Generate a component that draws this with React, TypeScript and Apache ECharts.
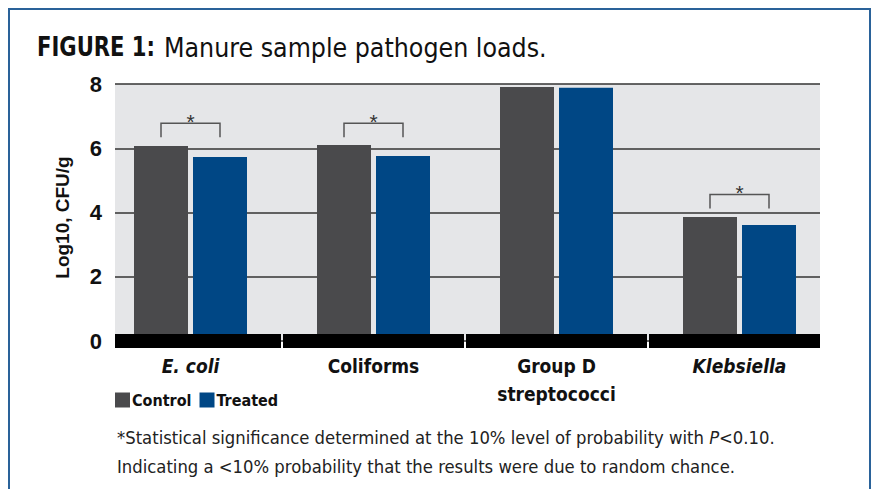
import React, { useEffect, useRef } from "react";
import * as echarts from "echarts";

// ---- data ----
const categories = ["E. coli", "Coliforms", "Group D\nstreptococci", "Klebsiella"];
const italicCategory = [true, false, false, true];
const controlValues = [6.07, 6.1, 7.91, 3.86];
const treatedValues = [5.73, 5.76, 7.88, 3.61];
const bracketLevels: (number | null)[] = [6.78, 6.78, null, 4.56];
const seriesNames = ["Control", "Treated"];
const yMin = 0;
const yMax = 8;
const yInterval = 2;

const titleBold = "FIGURE 1:";
const titleRest = "Manure sample pathogen loads.";
const footLine1a = "*Statistical significance determined at the 10% level of probability with ";
const footLine1P = "P";
const footLine1b = "<0.10.";
const footLine2 = "Indicating a <10% probability that the results were due to random chance.";

// ---- layout / style ----
const W = 873;
const H = 489;
const PLOT_LEFT = 115;
const PLOT_RIGHT = 820;
const PLOT_TOP = 84;
const PLOT_ZERO = 341;
const BAR_GRID_LEFT = 99;
const BAR_GRID_RIGHT = 831;
const BAR_WIDTH = 54;
const BAR_GAP_PX = 5;
const COND = '"DejaVu Sans Condensed", "Liberation Sans Narrow", "Arial Narrow", sans-serif';
const SANS = '"Liberation Sans", Arial, Helvetica, sans-serif';
const C_CONTROL = "#4a4a4c";
const C_TREATED = "#004785";
const C_BG = "#e5e6e8";

export default function App() {
  const ref = useRef<HTMLDivElement>(null);
  useEffect(() => {
    if (!ref.current) return;
    const chart = echarts.init(ref.current, undefined, { renderer: "svg" });
    const half = (BAR_WIDTH + BAR_GAP_PX) / 2;
    const option: any = {
      animation: false,
      backgroundColor: "#ffffff",
      grid: [
        {
          left: PLOT_LEFT,
          right: W - PLOT_RIGHT,
          top: PLOT_TOP,
          bottom: H - PLOT_ZERO,
          show: true,
          backgroundColor: C_BG,
          borderWidth: 0,
        },
        {
          left: BAR_GRID_LEFT,
          right: W - BAR_GRID_RIGHT,
          top: PLOT_TOP,
          bottom: H - PLOT_ZERO,
        },
      ],
      xAxis: [
        { gridIndex: 0, type: "value", show: false, min: 0, max: 1 },
        {
          gridIndex: 1,
          type: "category",
          data: categories,
          axisLine: { show: false },
          axisTick: { show: false },
          axisLabel: {
            margin: 11,
            interval: 0,
            formatter: (v: string, i: number) =>
              v
                .split("\n")
                .map((line) => (italicCategory[i] ? `{it|${line}}` : `{b|${line}}`))
                .join("\n"),
            rich: {
              b: { fontFamily: COND, fontWeight: "bold", fontSize: 19, color: "#111", lineHeight: 28 },
              it: {
                fontFamily: COND,
                fontWeight: "bold",
                fontStyle: "italic",
                fontSize: 19,
                color: "#111",
                lineHeight: 28,
              },
            },
          },
        },
      ],
      yAxis: [
        {
          gridIndex: 0,
          type: "value",
          min: yMin,
          max: yMax,
          interval: yInterval,
          name: "Log10, CFU/g",
          nameLocation: "middle",
          nameRotate: 90,
          nameGap: 43,
          nameTextStyle: { fontFamily: SANS, fontWeight: "bold", fontSize: 19, color: "#111", padding: [0, 10, 0, 0] },
          axisLine: { show: false },
          axisTick: { show: false },
          axisLabel: { fontFamily: SANS, fontWeight: "bold", fontSize: 22, color: "#111", margin: 13 },
          splitLine: { show: true, lineStyle: { color: "#333", width: 1.5 } },
        },
        {
          gridIndex: 1,
          type: "value",
          min: yMin,
          max: yMax,
          interval: yInterval,
          show: false,
          splitLine: { show: false },
        },
      ],
      legend: {
        left: 115,
        top: 392,
        padding: 0,
        itemWidth: 15,
        itemHeight: 15,
        itemGap: 8,
        icon: "rect",
        data: seriesNames,
        textStyle: { fontFamily: COND, fontWeight: "bold", fontSize: 16, color: "#111", padding: [0, 0, 0, -3] },
      },
      series: [
        {
          name: seriesNames[0],
          type: "bar",
          xAxisIndex: 1,
          yAxisIndex: 1,
          data: controlValues,
          barWidth: BAR_WIDTH,
          barGap: `${(BAR_GAP_PX / BAR_WIDTH) * 100}%`,
          itemStyle: { color: C_CONTROL },
          z: 2,
        },
        {
          name: seriesNames[1],
          type: "bar",
          xAxisIndex: 1,
          yAxisIndex: 1,
          data: treatedValues,
          barWidth: BAR_WIDTH,
          barGap: `${(BAR_GAP_PX / BAR_WIDTH) * 100}%`,
          itemStyle: { color: C_TREATED },
          z: 2,
        },
        {
          name: "band",
          type: "custom",
          xAxisIndex: 1,
          yAxisIndex: 1,
          z: 5,
          silent: true,
          data: categories.map((_, i) => [i, 0]),
          renderItem: (params: any, api: any) => {
            const c = api.coord([api.value(0), 0]);
            const w = api.size([1, 0])[0];
            const x0 = Math.max(c[0] - w / 2 + 1, PLOT_LEFT);
            const x1 = Math.min(c[0] + w / 2 - 1, PLOT_RIGHT);
            return {
              type: "rect",
              shape: { x: x0, y: c[1] - 7, width: x1 - x0, height: 14 },
              style: { fill: "#000" },
            };
          },
        },
        {
          name: "significance",
          type: "custom",
          xAxisIndex: 1,
          yAxisIndex: 1,
          z: 6,
          silent: true,
          data: bracketLevels
            .map((lvl, i) => (lvl == null ? null : [i, lvl]))
            .filter((d) => d != null),
          renderItem: (params: any, api: any) => {
            const c = api.coord([api.value(0), api.value(1)]);
            const x = c[0];
            const y = c[1];
            return {
              type: "group",
              children: [
                {
                  type: "polyline",
                  shape: {
                    points: [
                      [x - half, y + 14],
                      [x - half, y],
                      [x + half, y],
                      [x + half, y + 14],
                    ],
                  },
                  style: { stroke: "#555", lineWidth: 1.5, fill: null },
                },
                {
                  type: "text",
                  x: x,
                  y: y - 2,
                  style: {
                    text: "*",
                    fill: "#333",
                    font: `21px ${SANS}`,
                    align: "center",
                    verticalAlign: "middle",
                  },
                },
              ],
            };
          },
        },
      ],
      graphic: [
        {
          type: "rect",
          shape: { x: 9, y: 9, width: 861, height: 540 },
          style: { fill: "none", stroke: "#2a6299", lineWidth: 2 },
          silent: true,
        },
        {
          type: "text",
          x: 37,
          y: 47,
          scaleX: 0.87,
          style: {
            text: titleBold,
            verticalAlign: "middle",
            font: `bold 27px ${COND}`,
            fill: "#111",
          },
        },
        {
          type: "text",
          x: 164,
          y: 47,
          scaleX: 0.98,
          style: {
            text: titleRest,
            verticalAlign: "middle",
            font: `27px ${COND}`,
            fill: "#111",
          },
        },
        {
          type: "text",
          x: 117,
          y: 437,
          style: {
            text: `{r|${footLine1a}}{i|${footLine1P}}{r|${footLine1b}}`,
            verticalAlign: "middle",
            rich: {
              r: { fontFamily: COND, fontSize: 18.3, fill: "#222" },
              i: { fontFamily: COND, fontSize: 18.3, fontStyle: "italic", fill: "#222" },
            },
          },
        },
        {
          type: "text",
          x: 117,
          y: 466,
          style: {
            text: footLine2,
            verticalAlign: "middle",
            font: `18.3px ${COND}`,
            fill: "#222",
          },
        },
      ],
    };
    chart.setOption(option);
    return () => chart.dispose();
  }, []);
  return (
    <div
      ref={ref}
      style={{ position: "fixed", left: 0, top: 0, width: W, height: H }}
    />
  );
}
